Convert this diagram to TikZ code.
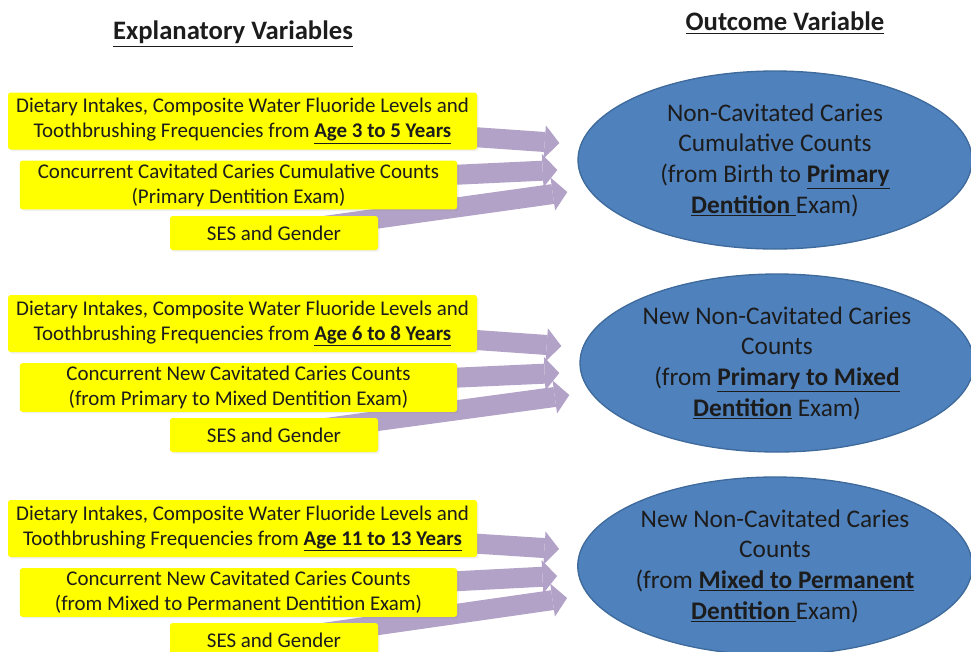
\documentclass[tikz,border=0pt]{standalone}
\usepackage{fontspec}
\setmainfont{Carlito}
\usepackage{tikz}
\usetikzlibrary{arrows.meta,positioning,calc,shapes.geometric,backgrounds,shadows}

\definecolor{boxyellow}{HTML}{FFFF00}
\definecolor{ovalblue}{HTML}{4F81BD}
\definecolor{ovaledge}{HTML}{3F6A9C}
\definecolor{flowpurple}{HTML}{B3A2C7}
\definecolor{inkgray}{HTML}{1C1C1C}

\tikzset{
  pred/.style={fill=boxyellow, rounded corners=2pt, text=inkgray, align=center,
    inner sep=0pt, font=\fontsize{15.7}{18.7}\selectfont,
    drop shadow={opacity=0.12, shadow xshift=1.2pt, shadow yshift=-1.2pt}},
  intake/.style={pred, minimum width=351.75pt, minimum height=42.75pt},
  concurrent/.style={pred, minimum width=328pt, minimum height=36.5pt},
  covar/.style={pred, minimum width=156pt, minimum height=25.5pt},
  outcome/.style={ellipse, fill=ovalblue, draw=ovaledge, line width=1pt,
    text=inkgray, align=center, inner sep=0pt, minimum width=295.5pt,
    minimum height=133.5pt, font=\fontsize{19}{23}\selectfont},
  flow/.style={draw=flowpurple, line width=15pt,
    -{Triangle[length=11pt,width=25pt,line width=0pt]}},
  heading/.style={font=\fontsize{20}{24}\selectfont\bfseries, text=inkgray}
}

\begin{document}
\begin{tikzpicture}[x=0.75pt,y=-0.75pt]
\useasboundingbox (0,0) rectangle (971,651);
\clip (0,0) rectangle (971,651);

% Column headings
\node[heading] (hexp) at (233,34) {\underline{Explanatory Variables}};
\node[heading] (hout) at (785,23) {\underline{Outcome Variable}};

% Primary dentition
\node[intake] (d1) at (242.5,121) {Dietary Intakes, Composite Water Fluoride Levels and\\
  Toothbrushing Frequencies from \underline{\textbf{Age 3 to 5 Years}}};
\node[concurrent] (c1) at (238.5,185) {Concurrent Cavitated Caries Cumulative Counts\\
  (Primary Dentition Exam)};
\node[covar] (s1) at (274,233) {SES and Gender};
\node[outcome] (o1) at (775,160) {Non-Cavitated Caries\\Cumulative Counts\\
  (from Birth to \underline{\textbf{Primary}}\\\underline{\textbf{Dentition }}Exam)};

% Mixed dentition
\node[intake] (d2) at (242.5,323.5) {Dietary Intakes, Composite Water Fluoride Levels and\\
  Toothbrushing Frequencies from \underline{\textbf{Age 6 to 8 Years}}};
\node[concurrent] (c2) at (238.5,387.5) {Concurrent New Cavitated Caries Counts\\
  (from Primary to Mixed Dentition Exam)};
\node[covar] (s2) at (274,435) {SES and Gender};
\node[outcome] (o2) at (777,363) {New Non-Cavitated Caries\\Counts\\
  (from \underline{\textbf{Primary to Mixed}}\\\underline{\textbf{Dentition}} Exam)};

% Permanent dentition
\node[intake] (d3) at (242.5,528.5) {Dietary Intakes, Composite Water Fluoride Levels and\\
  Toothbrushing Frequencies from \underline{\textbf{Age 11 to 13 Years}}};
\node[concurrent] (c3) at (238.5,592.5) {Concurrent New Cavitated Caries Counts\\
  (from Mixed to Permanent Dentition Exam)};
\node[covar] (s3) at (274,640) {SES and Gender};
\node[outcome] (o3) at (775,566) {New Non-Cavitated Caries\\Counts\\
  (from \underline{\textbf{Mixed to Permanent}}\\\underline{\textbf{Dentition }}Exam)};

% Arrow tips in front of each outcome
\foreach \i in {1,2,3} {
  \coordinate (ta\i) at ($(o\i.west)+(-18,-17)$);
  \coordinate (tb\i) at ($(o\i.west)+(-20,10)$);
  \coordinate (tc\i) at ($(o\i.west)+(-10,32)$);
}

% Block arrows behind the boxes
\begin{scope}[on background layer]
\foreach \i in {1,2,3} {
  \draw[flow] (s\i.center) -- (tc\i);
  \draw[flow] (c\i.center) -- (tb\i);
  \draw[flow] (d\i.center) -- (ta\i);
}
\end{scope}
\end{tikzpicture}
\end{document}
